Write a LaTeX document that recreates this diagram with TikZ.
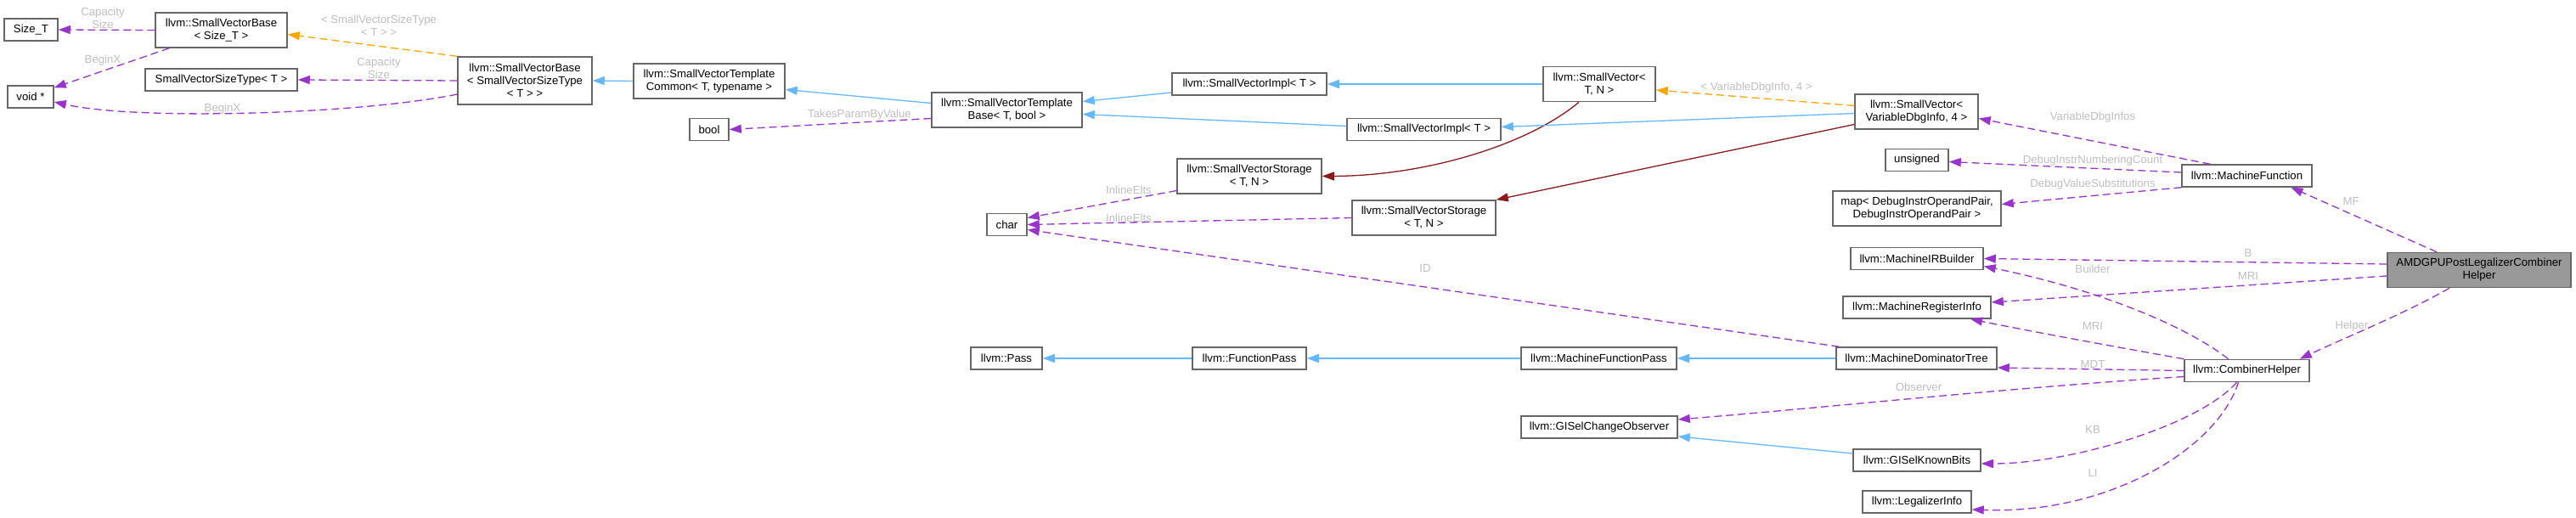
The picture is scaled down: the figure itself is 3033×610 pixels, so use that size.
\documentclass[tikz,border=0pt]{standalone}
\usepackage{fontspec}
\setmainfont{Liberation Sans}
\usetikzlibrary{arrows.meta}
\definecolor{edgepurple}{HTML}{9A32CD}
\definecolor{edgeblue}{HTML}{63B8FF}
\definecolor{edgeorange}{HTML}{FFA500}
\definecolor{edgered}{HTML}{8B1A1A}
\definecolor{labgray}{HTML}{BEBEBE}
\definecolor{boxgray}{HTML}{666666}
\definecolor{mainfill}{HTML}{999999}
\begin{document}
\begin{tikzpicture}[x=1pt,y=-1pt,
  font=\fontsize{13.2}{15}\selectfont,
  box/.style={draw=boxgray, line width=1.5pt, fill=white, inner sep=0pt, align=center, text=black},
  tip/.style={-{Triangle[length=14pt,width=10pt]}},
  dep/.style={tip, draw=edgepurple, line width=1.3pt, dash pattern=on 9pt off 5pt},
  inh/.style={tip, draw=edgeblue, line width=1.3pt},
  tmpl/.style={tip, draw=edgeorange, line width=1.3pt, dash pattern=on 9pt off 5pt},
  own/.style={tip, draw=edgered, line width=1.3pt},
  lab/.style={text=labgray, align=center, inner sep=0pt}]
\useasboundingbox (0,0) rectangle (3033,610);

% nodes
\node[box, minimum width=63, minimum height=26] (sizeT) at (36.5,35) {Size\_T};
\node[box, minimum width=155, minimum height=41] (svbsize) at (260.5,35.5) {llvm::SmallVectorBase\\< Size\_T >};
\node[box, minimum width=54, minimum height=26] (voidp) at (36,114) {void *};
\node[box, minimum width=179, minimum height=26] (svst) at (260.5,94) {SmallVectorSizeType< T >};
\node[box, minimum width=158, minimum height=56] (svbsvst) at (618,95) {llvm::SmallVectorBase\\< SmallVectorSizeType\\< T > >};
\node[box, minimum width=178, minimum height=41] (svtc) at (835,95.5) {llvm::SmallVectorTemplate\\Common< T, typename >};
\node[box, minimum width=46, minimum height=26] (boolN) at (835,152.5) {bool};
\node[box, minimum width=177, minimum height=41] (svtb) at (1185.5,129.5) {llvm::SmallVectorTemplate\\Base< T, bool >};
\node[box, minimum width=182, minimum height=26] (svimplA) at (1471,99) {llvm::SmallVectorImpl< T >};
\node[box, minimum width=170, minimum height=41] (svstorA) at (1471,207.5) {llvm::SmallVectorStorage\\< T, N >};
\node[box, minimum width=47, minimum height=26] (charN) at (1185.5,264.5) {char};
\node[box, minimum width=132, minimum height=41] (svTN) at (1883,99) {llvm::SmallVector<\\T, N >};
\node[box, minimum width=181, minimum height=26] (svimplB) at (1676.5,152.5) {llvm::SmallVectorImpl< T >};
\node[box, minimum width=169, minimum height=41] (svstorB) at (1676.5,256.5) {llvm::SmallVectorStorage\\< T, N >};
\node[box, minimum width=145, minimum height=41] (svVDI) at (2256.5,131.5) {llvm::SmallVector<\\VariableDbgInfo, 4 >};
\node[box, minimum width=74, minimum height=26] (unsignedN) at (2257,188.5) {unsigned};
\node[box, minimum width=198, minimum height=41] (mapN) at (2257,245.5) {map< DebugInstrOperandPair,\\DebugInstrOperandPair >};
\node[box, minimum width=156, minimum height=26] (mirb) at (2257,304.5) {llvm::MachineIRBuilder};
\node[box, minimum width=153, minimum height=26] (mf) at (2645.5,207) {llvm::MachineFunction};
\node[box, minimum width=216, minimum height=41, fill=mainfill] (amd) at (2919,318) {AMDGPUPostLegalizerCombiner\\Helper};
\node[box, minimum width=174, minimum height=26] (mri) at (2257,362) {llvm::MachineRegisterInfo};
\node[box, minimum width=189, minimum height=26] (mdt) at (2256.5,422) {llvm::MachineDominatorTree};
\node[box, minimum width=150, minimum height=26] (gkb) at (2257,542) {llvm::GISelKnownBits};
\node[box, minimum width=128, minimum height=26] (li) at (2257,591) {llvm::LegalizerInfo};
\node[box, minimum width=147, minimum height=26] (ch) at (2645.5,436.5) {llvm::CombinerHelper};
\node[box, minimum width=84, minimum height=26] (pass) at (1185,422) {llvm::Pass};
\node[box, minimum width=134, minimum height=26] (fp) at (1471,422) {llvm::FunctionPass};
\node[box, minimum width=183, minimum height=26] (mfp) at (1882.5,422) {llvm::MachineFunctionPass};
\node[box, minimum width=184, minimum height=26] (gco) at (1883,503) {llvm::GISelChangeObserver};

% edges
\draw[dep] (svbsize.west) -- (sizeT.east);
\draw[dep] ([xshift=17pt]svbsize.south west) -- ([yshift=-3pt]voidp.north east);
\draw[dep] (svbsvst.west) -- (svst.east);
\draw[dep] ([yshift=-16pt]svbsvst.west) .. controls (420,135) and (160,142) .. ([yshift=-6pt]voidp.east);
\draw[tmpl] (svbsvst.north west) -- ([yshift=-5pt]svbsize.east);
\draw[inh] (svtc.west) -- (svbsvst.east);
\draw[inh] ([yshift=8pt]svtb.west) -- ([yshift=-10pt]svtc.east);
\draw[dep] ([yshift=-10pt]svtb.west) -- (boolN.east);
\draw[inh] ([yshift=-10pt]svimplA.west) -- ([yshift=10pt]svtb.east);
\draw[inh] ([yshift=4pt]svimplB.west) -- ([yshift=-5pt]svtb.east);
\draw[dep] ([yshift=-17pt]svstorA.west) -- ([yshift=8pt]charN.east);
\draw[dep] (svstorB.west) -- (charN.east);
\draw[dep] ([xshift=4pt]mdt.north west) -- ([yshift=-6pt]charN.east);
\draw[inh] (svTN.west) -- (svimplA.east);
\draw[own] ([xshift=-24pt]svTN.south) .. controls (1800,170) and (1680,207) .. (svstorA.east);
\draw[tmpl] ([yshift=7pt]svVDI.west) -- ([yshift=-7pt]svTN.east);
\draw[inh] ([yshift=-2pt]svVDI.west) -- ([yshift=3pt]svimplB.east);
\draw[own] ([yshift=-15pt]svVDI.west) -- (svstorB.north east);
\draw[dep] ([xshift=34pt]mf.north west) -- ([yshift=-8pt]svVDI.east);
\draw[dep] ([yshift=4pt]mf.west) -- ([yshift=-2pt]unsignedN.east);
\draw[dep] (mf.south west) -- ([yshift=5pt]mapN.east);
\draw[dep] ([xshift=-50pt]amd.north) -- ([xshift=52pt]mf.south);
\draw[dep] ([yshift=7pt]amd.west) -- (mirb.east);
\draw[dep] ([yshift=-7pt]amd.west) -- ([yshift=6pt]mri.east);
\draw[dep] ([xshift=-35pt]amd.south) .. controls (2830,370) and (2760,398) .. ([xshift=-12pt]ch.north east);
\draw[dep] ([xshift=-22pt]ch.north) .. controls (2580,388) and (2480,343) .. ([yshift=-9pt]mirb.east);
\draw[dep] (ch.north west) .. controls (2500,410) and (2400,392) .. ([xshift=63pt]mri.south);
\draw[dep] (ch.west) -- ([yshift=-11pt]mdt.east);
\draw[dep] ([yshift=-7pt]ch.west) .. controls (2350,458) and (2150,480) .. ([yshift=9pt]gco.east);
\draw[dep] ([xshift=-12pt]ch.south) .. controls (2590,500) and (2440,546) .. ([yshift=-4pt]gkb.east);
\draw[dep] ([xshift=-10pt]ch.south) .. controls (2610,530) and (2480,606) .. ([yshift=-9pt]li.east);
\draw[inh] (mdt.west) -- (mfp.east);
\draw[inh] (mfp.west) -- (fp.east);
\draw[inh] (fp.west) -- (pass.east);
\draw[inh] ([yshift=8pt]gkb.west) -- ([yshift=-11pt]gco.east);

% labels
\node[lab] at (121,21) {Capacity\\Size};
\node[lab] at (121,71) {BeginX};
\node[lab] at (446,80.5) {Capacity\\Size};
\node[lab] at (262,128) {BeginX};
\node[lab] at (446,30) {< SmallVectorSizeType\\< T > >};
\node[lab] at (1012,135) {TakesParamByValue};
\node[lab] at (1329,224) {InlineElts};
\node[lab] at (1329,257) {InlineElts};
\node[lab] at (1678,316) {ID};
\node[lab] at (2068,103) {< VariableDbgInfo, 4 >};
\node[lab] at (2464,138) {VariableDbgInfos};
\node[lab] at (2464,189) {DebugInstrNumberingCount};
\node[lab] at (2464,217) {DebugValueSubstitutions};
\node[lab] at (2768,237) {MF};
\node[lab] at (2647,298) {B};
\node[lab] at (2647,325) {MRI};
\node[lab] at (2769,384) {Helper};
\node[lab] at (2464,317) {Builder};
\node[lab] at (2464,384) {MRI};
\node[lab] at (2464,429) {MDT};
\node[lab] at (2259,456) {Observer};
\node[lab] at (2464,506) {KB};
\node[lab] at (2464,557) {LI};
\end{tikzpicture}
\end{document}
